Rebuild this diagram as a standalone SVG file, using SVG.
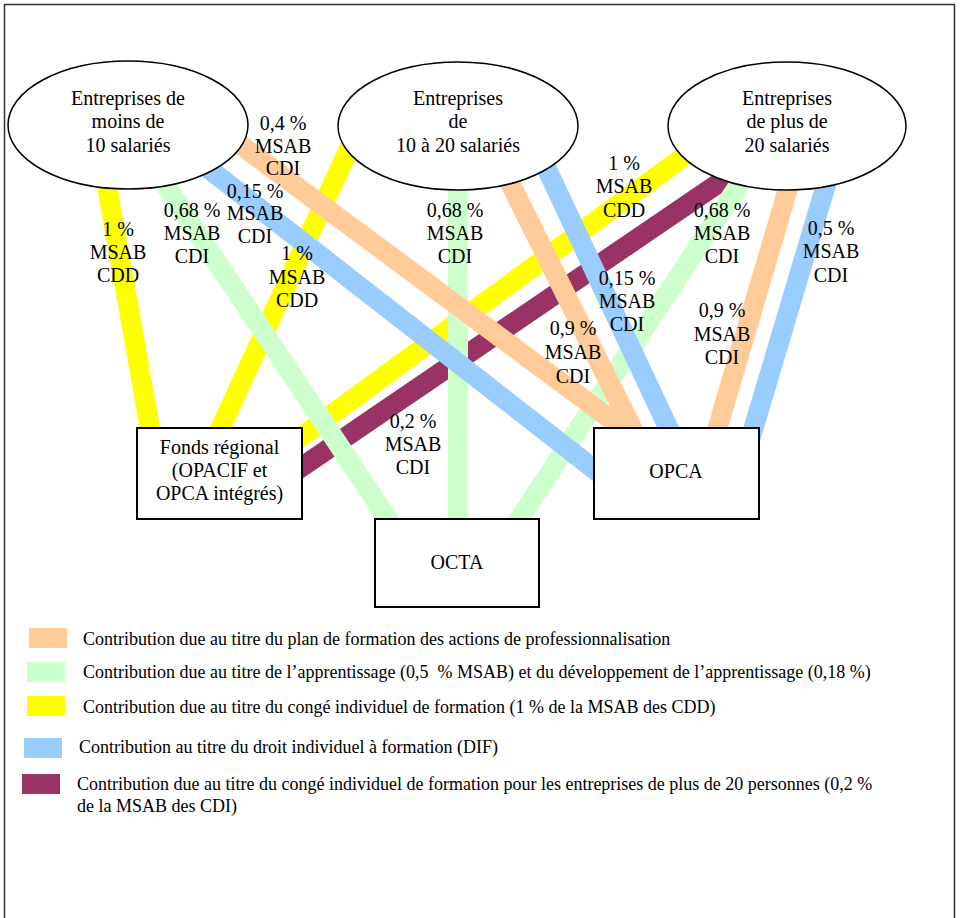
<svg xmlns="http://www.w3.org/2000/svg" width="960" height="918" viewBox="0 0 960 918">
<style>
.t{font-family:"Liberation Serif","Times New Roman",serif;font-size:20px;fill:#000;text-anchor:middle}
.lg{font-family:"Liberation Serif","Times New Roman",serif;font-size:18px;fill:#000}
.c{fill:none;stroke-width:20;stroke-linecap:butt}
.y{stroke:#FFFF00}.p{stroke:#993366}.g{stroke:#CCFFCC}.b{stroke:#99CCFF}.o{stroke:#FFCC99}
.node{fill:#fff;stroke:#000;stroke-width:1.5}
.box{fill:#fff;stroke:#000;stroke-width:2}
</style>
<rect x="0" y="0" width="960" height="918" fill="#fff"/>
<rect x="4.5" y="4.5" width="950" height="930" fill="none" stroke="#333" stroke-width="1.5"/>
<g id="connectors">
<line class="c y" x1="106" y1="180" x2="152" y2="440"/>
<line class="c y" x1="354" y1="138" x2="215" y2="440"/>
<line class="c y" x1="705" y1="141" x2="290" y2="445"/>
<line class="c p" x1="735" y1="172" x2="290" y2="475"/>
<line class="c g" x1="163" y1="181" x2="396" y2="531"/>
<line class="c g" x1="458" y1="180" x2="458" y2="530"/>
<line class="c g" x1="746" y1="174" x2="512" y2="530"/>
<line class="c b" x1="200" y1="162" x2="608" y2="480"/>
<line class="c b" x1="545" y1="165" x2="674" y2="440"/>
<line class="c b" x1="828" y1="178" x2="750" y2="440"/>
<line class="c o" x1="238" y1="143" x2="640" y2="441"/>
<line class="c o" x1="505" y1="173" x2="638" y2="440"/>
<line class="c o" x1="790" y1="182" x2="714" y2="440"/>
</g>
<g id="e1">
<ellipse class="node" cx="128" cy="125" rx="120" ry="64"/>
<text class="t" x="128" y="105">Entreprises de</text>
<text class="t" x="128" y="128">moins de</text>
<text class="t" x="128" y="152">10 salariés</text>
</g>
<g id="e2">
<ellipse class="node" cx="458" cy="126" rx="120" ry="64"/>
<text class="t" x="458" y="105">Entreprises</text>
<text class="t" x="458" y="128">de</text>
<text class="t" x="458" y="152">10 à 20 salariés</text>
</g>
<g id="e3">
<ellipse class="node" cx="787" cy="126" rx="119" ry="64"/>
<text class="t" x="787" y="105">Entreprises</text>
<text class="t" x="787" y="128">de plus de</text>
<text class="t" x="787" y="152">20 salariés</text>
</g>
<g id="fonds">
<rect class="box" x="137" y="428" width="165" height="91"/>
<text class="t" x="219.5" y="454">Fonds régional</text>
<text class="t" x="219.5" y="477">(OPACIF et</text>
<text class="t" x="219.5" y="500">OPCA intégrés)</text>
</g>
<g id="octa">
<rect class="box" x="375" y="519" width="164" height="88"/>
<text class="t" x="457" y="569">OCTA</text>
</g>
<g id="opca">
<rect class="box" x="594" y="428" width="165" height="91"/>
<text class="t" x="676" y="478">OPCA</text>
</g>
<g id="connector-labels">
<text class="t" x="283" y="130">0,4 %</text><text class="t" x="283" y="153">MSAB</text><text class="t" x="283" y="175">CDI</text>
<text class="t" x="255" y="198">0,15 %</text><text class="t" x="255" y="220">MSAB</text><text class="t" x="255" y="243">CDI</text>
<text class="t" x="192" y="217">0,68 %</text><text class="t" x="192" y="240">MSAB</text><text class="t" x="192" y="263">CDI</text>
<text class="t" x="118" y="236">1 %</text><text class="t" x="118" y="259">MSAB</text><text class="t" x="118" y="282">CDD</text>
<text class="t" x="297" y="260">1 %</text><text class="t" x="297" y="284">MSAB</text><text class="t" x="297" y="307">CDD</text>
<text class="t" x="455" y="217">0,68 %</text><text class="t" x="455" y="240">MSAB</text><text class="t" x="455" y="263">CDI</text>
<text class="t" x="624" y="170">1 %</text><text class="t" x="624" y="193">MSAB</text><text class="t" x="624" y="217">CDD</text>
<text class="t" x="627" y="285">0,15 %</text><text class="t" x="627" y="308">MSAB</text><text class="t" x="627" y="331">CDI</text>
<text class="t" x="722" y="217">0,68 %</text><text class="t" x="722" y="240">MSAB</text><text class="t" x="722" y="263">CDI</text>
<text class="t" x="722" y="317">0,9 %</text><text class="t" x="722" y="341">MSAB</text><text class="t" x="722" y="364">CDI</text>
<text class="t" x="831" y="235">0,5 %</text><text class="t" x="831" y="258">MSAB</text><text class="t" x="831" y="282">CDI</text>
<text class="t" x="573" y="335">0,9 %</text><text class="t" x="573" y="359">MSAB</text><text class="t" x="573" y="383">CDI</text>
<text class="t" x="413" y="428">0,2 %</text><text class="t" x="413" y="451">MSAB</text><text class="t" x="413" y="474">CDI</text>
</g>
<g id="legend">
<rect x="29" y="628" width="38" height="20" fill="#FFCC99"/>
<text class="lg" x="83" y="645">Contribution due au titre du plan de formation des actions de professionnalisation</text>
<rect x="27" y="662" width="38" height="20" fill="#CCFFCC"/>
<text class="lg" x="83" y="678" xml:space="preserve">Contribution due au titre de l’apprentissage (0,5  % MSAB) et du développement de l’apprentissage (0,18 %)</text>
<rect x="27" y="696" width="38" height="20" fill="#FFFF00"/>
<text class="lg" x="83" y="713">Contribution due au titre du congé individuel de formation (1 % de la MSAB des CDD)</text>
<rect x="24" y="738" width="38" height="20" fill="#99CCFF"/>
<text class="lg" x="79" y="753">Contribution au titre du droit individuel à formation (DIF)</text>
<rect x="22" y="774" width="38" height="20" fill="#993366"/>
<text class="lg" x="77" y="790">Contribution due au titre du congé individuel de formation pour les entreprises de plus de 20 personnes (0,2 %</text>
<text class="lg" x="77" y="812">de la MSAB des CDI)</text>
</g>
</svg>
